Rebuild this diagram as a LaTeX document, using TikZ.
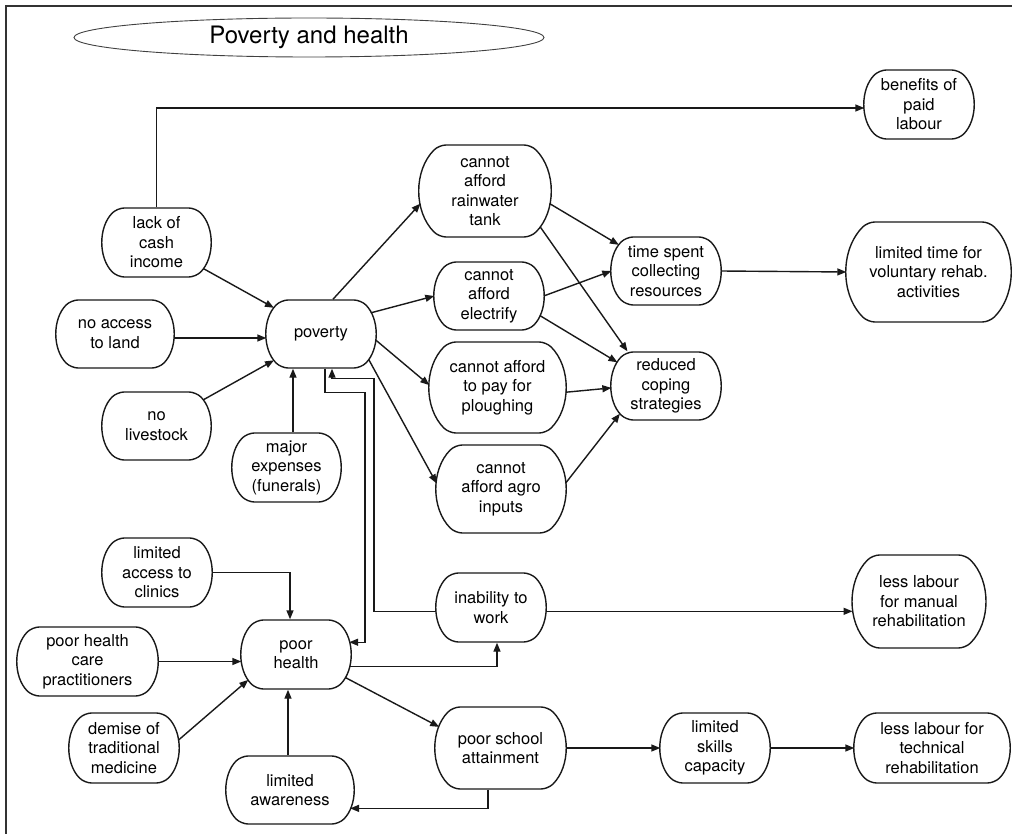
\documentclass[tikz,border=0pt]{standalone}
\usepackage{fontspec}
\setmainfont{TeX Gyre Heros}
\usetikzlibrary{shapes.misc,shapes.geometric,arrows.meta,calc}

\tikzset{
  box/.style={rounded rectangle, rounded rectangle arc length=90, draw=black!90,
    rounded corners=7pt, line width=1.4pt, inner sep=0pt, align=center,
    font=\fontsize{16.5}{19.5}\selectfont},
  arr/.style={draw=black!90, line width=1.4pt, sharp corners, -{Triangle[length=9pt,width=7pt]}},
  frameline/.style={draw=black!80, line width=1.8pt},
}

\begin{document}
\begin{tikzpicture}[x=1pt,y=-1pt]
\useasboundingbox (0,0) rectangle (1012,834);

% outer frame (top and left edges)
\draw[frameline] (6,834) -- (6,6) -- (1012,6);

% title
\node[ellipse, draw=black!75, line width=0.9pt, minimum width=470pt, minimum height=39pt,
  inner sep=0pt, font=\fontsize{24}{28}\selectfont] (title) at (309,37.5) {Poverty and health};

% poverty cluster
\node[box, minimum width=107pt, minimum height=69pt] (lack)   at (156.5,242.5) {lack of\\cash\\income};
\node[box, minimum width=116pt, minimum height=68pt] (noland) at (115,334) {no access\\to land};
\node[box, minimum width=108pt, minimum height=68pt] (pov)    at (321,334) {poverty};
\node[box, minimum width=107pt, minimum height=68pt] (nolive) at (156.5,426) {no\\livestock};
\node[box, minimum width=107pt, minimum height=69pt] (major)  at (286.5,467.5) {major\\expenses\\(funerals)};

\node[box, minimum width=110pt, minimum height=92pt] (rain)   at (485,191) {cannot\\afford\\rainwater\\tank};
\node[box, minimum width=108pt, minimum height=68pt] (elec)   at (489,296) {cannot\\afford\\electrify};
\node[box, minimum width=135pt, minimum height=91pt] (plough) at (497.5,387.5) {cannot afford\\to pay for\\ploughing};
\node[box, minimum width=128pt, minimum height=88pt] (agro)   at (501,489) {cannot\\afford agro\\inputs};

\node[box, minimum width=108pt, minimum height=68pt] (timesp)  at (666,271) {time spent\\collecting\\resources};
\node[box, minimum width=108pt, minimum height=68pt] (reduced) at (666,386) {reduced\\coping\\strategies};
\node[box, minimum width=108pt, minimum height=69pt] (benefits) at (919,104.5) {benefits of\\paid\\labour};
\node[box, minimum width=163pt, minimum height=100pt] (limtime) at (928.5,272) {limited time for\\voluntary rehab.\\activities};

% health cluster
\node[box, minimum width=108pt, minimum height=69pt] (clinics) at (157,572.5) {limited\\access to\\clinics};
\node[box, minimum width=139pt, minimum height=69pt] (pract)   at (87.5,661.5) {poor health\\care\\practitioners};
\node[box, minimum width=108pt, minimum height=69pt] (phealth) at (296,654.5) {poor\\health};
\node[box, minimum width=108pt, minimum height=70pt] (demise)  at (124,748) {demise of\\traditional\\medicine};
\node[box, minimum width=126pt, minimum height=68pt] (aware)   at (290,790) {limited\\awareness};

\node[box, minimum width=108pt, minimum height=69pt] (inability) at (491,607.5) {inability to\\work};
\node[box, minimum width=129pt, minimum height=82pt] (school)    at (500.5,748) {poor school\\attainment};
\node[box, minimum width=108pt, minimum height=70pt] (skills)    at (715,748) {limited\\skills\\capacity};
\node[box, minimum width=154pt, minimum height=70pt] (technical) at (932,748) {less labour for\\technical\\rehabilitation};
\node[box, minimum width=128pt, minimum height=93pt] (manual)    at (919,601.5) {less labour\\for manual\\rehabilitation};

% causes of poverty
\draw[arr] (lack.north) |- ($(benefits.west)+(0,3.5)$);
\draw[arr] (lack) -- (pov);
\draw[arr] ($(noland.east)+(0,4)$) -- ($(pov.west)+(0,4)$);
\draw[arr] (nolive) -- (pov);
\draw[arr] ($(major.north)+(6.5,0)$) -- ($(pov.south)+(-28,0)$);

% consequences of poverty
\draw[arr] (pov.71) -- (rain.191);
\draw[arr] (pov.23) -- (elec.west);
\draw[arr] (pov.-6) -- (plough.178);
\draw[arr] (pov.-28) -- (agro.175);

\draw[arr] (rain.-11) -- (timesp.151);
\draw[arr] (rain.-33) -- (reduced.138);
\draw[arr] (elec.east) -- (timesp.west);
\draw[arr] (elec.-21) -- (reduced.154);
\draw[arr] (plough.-4) -- (reduced.182);
\draw[arr] (agro.5) -- (reduced.211);
\draw[arr] (timesp.east) -- (limtime.west);

% poverty <-> poor health loop
\draw[arr] (inability.184) -| ($(pov.south)+(53,10)$) -| ($(pov.south)+(11,0)$);
\draw[arr] ($(pov.south)+(4,0)$) |- ($(pov.south)+(44,24)$) |- (phealth.13);

% causes of poor health
\draw[arr] (clinics.east) -| ($(phealth.north)+(-6,0)$);
\draw[arr] (pract.east) -- (pract.east -| phealth.west);
\draw[arr] (demise.8) -- (phealth.208);
\draw[arr] ($(aware.north)+(-2,0)$) -- ($(phealth.south)+(-8,0)$);

% consequences of poor health
\draw[arr] (phealth.-13.5) -| ($(inability.south)+(6,0)$);
\draw[arr] (phealth.-25) -- (school.161);
\draw[arr] ($(school.south)+(-12.5,0)$) |- (aware.-17);
\draw[arr] (inability.-4) -- (inability.-4 -| manual.west);
\draw[arr] (school.east) -- (skills.west);
\draw[arr] (skills.east) -- (technical.west);

\end{tikzpicture}
\end{document}
